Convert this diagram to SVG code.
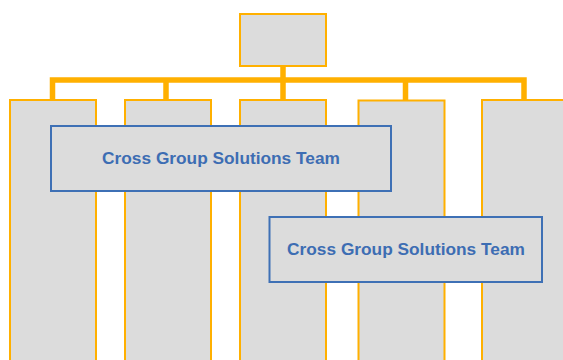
<svg xmlns="http://www.w3.org/2000/svg" width="563" height="360" viewBox="0 0 563 360">
<style>
.unit{fill:#dcdcdc;stroke:#ffb000;stroke-width:2}
.team{fill:#dcdcdc;stroke:#3e70b5;stroke-width:2}
.conn{fill:none;stroke:#ffb000;stroke-width:5.5}
.lbl{font-family:"Liberation Sans",Arial,sans-serif;font-weight:bold;font-size:17.3px;fill:#3d6db3;text-anchor:middle}
</style>
<rect width="563" height="360" fill="#ffffff"/>
<g id="connectors">
<path class="conn" d="M52.5 100V80H524V100M283 66V100M166 80V100M405.5 80V100"/>
</g>
<g id="top"><rect class="unit" x="240" y="14" width="86" height="52"/></g>
<g id="col1"><rect class="unit" x="10" y="100" width="86" height="270"/></g>
<g id="col2"><rect class="unit" x="125" y="100" width="86" height="270"/></g>
<g id="col3"><rect class="unit" x="240" y="100" width="86" height="270"/></g>
<g id="col4"><rect class="unit" x="358.5" y="100.5" width="86" height="270"/></g>
<g id="col5"><rect class="unit" x="482" y="100" width="100" height="270"/></g>
<g id="team1"><rect class="team" x="51" y="126" width="340" height="65"/><text class="lbl" x="221" y="164">Cross Group Solutions Team</text></g>
<g id="team2"><rect class="team" x="269.5" y="217" width="272.5" height="65"/><text class="lbl" x="406" y="255">Cross Group Solutions Team</text></g>
</svg>
